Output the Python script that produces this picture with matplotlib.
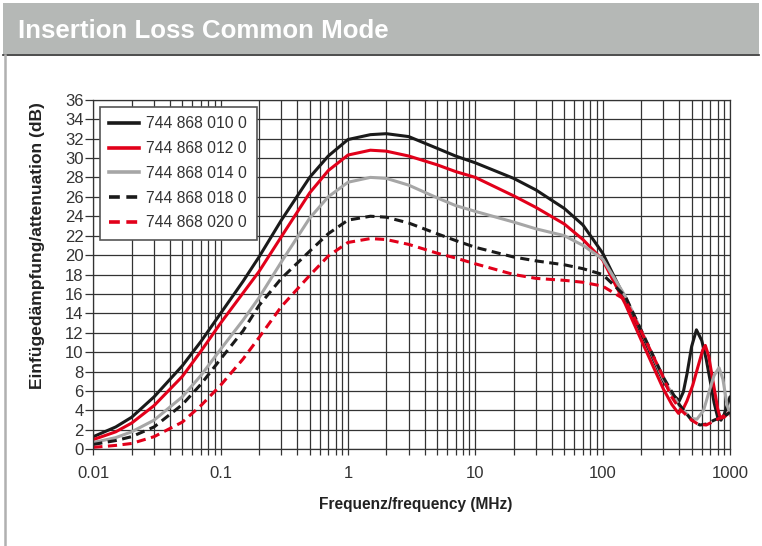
import matplotlib
matplotlib.use("Agg")
import matplotlib.pyplot as plt
import matplotlib.ticker as mticker
from matplotlib.lines import Line2D
from matplotlib.patches import Rectangle

# ── Data ─────────────────────────────────────────────────
labels = ["744 868 010 0", "744 868 012 0", "744 868 014 0",
          "744 868 018 0", "744 868 020 0"]

freq_010 = [0.01, 0.015, 0.02, 0.03, 0.05, 0.07, 0.1, 0.15, 0.2, 0.3, 0.5, 0.7, 1, 1.5, 2, 3, 5, 7,
            10, 20, 30, 50, 70, 100, 150, 200, 300, 350, 400, 430, 460, 500, 545, 600, 650, 700,
            750, 800, 850, 900, 1000]
att_010 = [1.3, 2.3, 3.3, 5.4, 8.6, 11.1, 14.0, 17.3, 19.8, 23.6, 28.0, 30.2, 31.9, 32.4, 32.5, 32.2,
           31.0, 30.2, 29.5, 27.9, 26.7, 24.8, 23.1, 20.2, 15.5, 12.0, 7.0, 5.7, 5.0, 5.9, 7.8, 10.6,
           12.3, 11.2, 9.3, 7.0, 4.8, 3.3, 3.0, 3.6, 5.4]

freq_012 = [0.01, 0.015, 0.02, 0.03, 0.05, 0.07, 0.1, 0.15, 0.2, 0.3, 0.5, 0.7, 1, 1.5, 2, 3, 5, 7,
            10, 20, 30, 50, 70, 100, 150, 200, 300, 350, 394, 430, 460, 510, 560, 610, 640, 680,
            740, 800, 840, 900, 1000]
att_012 = [1.0, 1.8, 2.7, 4.5, 7.5, 10.1, 13.0, 16.1, 18.3, 21.9, 26.4, 28.7, 30.3, 30.8, 30.7, 30.2,
           29.3, 28.6, 28.0, 26.1, 24.9, 23.2, 21.6, 19.5, 15.0, 11.3, 6.2, 4.6, 3.7, 4.2, 5.0, 6.6,
           8.5, 10.2, 10.7, 9.6, 6.8, 4.2, 3.2, 3.3, 3.9]

freq_014 = [0.01, 0.015, 0.02, 0.03, 0.05, 0.07, 0.1, 0.15, 0.2, 0.3, 0.5, 0.7, 1, 1.5, 2, 3, 5, 7,
            10, 20, 30, 50, 70, 100, 150, 200, 300, 400, 490, 550, 620, 680, 750, 820, 880, 950, 1000]
att_014 = [0.7, 1.2, 1.8, 3.0, 5.4, 7.6, 10.3, 13.3, 15.6, 19.3, 23.8, 26.0, 27.5, 28.0, 27.9, 27.2,
           25.9, 25.1, 24.5, 23.4, 22.7, 22.0, 21.0, 19.6, 15.8, 12.3, 7.2, 4.5, 3.2, 3.1, 4.0, 5.8,
           7.6, 8.4, 7.2, 4.5, 3.7]

freq_018 = [0.01, 0.015, 0.02, 0.03, 0.05, 0.07, 0.1, 0.15, 0.2, 0.3, 0.5, 0.7, 1, 1.5, 2, 3, 5, 7,
            10, 20, 30, 50, 70, 100, 150, 200, 300, 400, 500, 580, 650, 750, 850, 950, 1000]
att_018 = [0.5, 0.9, 1.3, 2.3, 4.6, 6.7, 9.3, 12.2, 14.8, 17.6, 20.4, 22.2, 23.6, 24.0, 23.9, 23.3,
           22.2, 21.5, 20.8, 19.8, 19.4, 19.0, 18.6, 18.0, 15.8, 12.3, 7.4, 4.6, 3.0, 2.5, 2.6, 3.0,
           3.3, 3.6, 3.8]

freq_020 = [0.01, 0.015, 0.02, 0.03, 0.05, 0.07, 0.1, 0.15, 0.2, 0.3, 0.5, 0.7, 1, 1.5, 2, 3, 5, 7,
            10, 20, 30, 50, 70, 100, 150, 200, 300, 340, 400, 500, 560, 650, 750, 850, 950, 1000]
att_020 = [0.2, 0.4, 0.6, 1.3, 2.8, 4.5, 6.6, 9.3, 11.5, 14.7, 17.9, 19.9, 21.3, 21.7, 21.6, 21.1,
           20.2, 19.7, 19.1, 18.0, 17.6, 17.4, 17.2, 16.8, 15.4, 12.2, 7.4, 5.6, 4.2, 3.0, 2.6, 2.5,
           2.9, 3.3, 3.6, 3.5]

x_ticks = [0.01, 0.1, 1, 10, 100, 1000]
x_ticklabels = ["0.01", "0.1", "1", "10", "100", "1000"]
y_ticks = list(range(0, 37, 2))

# ── Style ────────────────────────────────────────────────
plt.rcParams["font.family"] = ["Liberation Sans", "DejaVu Sans"]
BLACK, RED, GREY = "#1a1a1a", "#e2001a", "#a6a6a6"
GRID = "#333333"
W, H = 762, 546
DASH = (3.0, 1.8)

series = [
    (freq_010, att_010, BLACK, "-"),
    (freq_012, att_012, RED, "-"),
    (freq_014, att_014, GREY, "-"),
    (freq_018, att_018, BLACK, "--"),
    (freq_020, att_020, RED, "--"),
]

fig = plt.figure(figsize=(W / 100, H / 100), dpi=100)
fig.patch.set_facecolor("white")

# header bar
fig.add_artist(Rectangle((3 / W, 1 - 54 / H), 756 / W, 51 / H, transform=fig.transFigure,
                         facecolor="#b5b8b6", edgecolor="none"))
fig.add_artist(Line2D([3 / W, 759 / W], [1 - 54.5 / H] * 2, transform=fig.transFigure,
                      color="#2e2e2e", lw=1.2))
fig.add_artist(Line2D([5 / W] * 2, [0, 1 - 55 / H], transform=fig.transFigure,
                      color="#b0b0b0", lw=1.8))
fig.text(18 / W, 1 - 31 / H, "Insertion Loss Common Mode", color="white", fontsize=18.6,
         fontweight="bold", va="center", ha="left")

# plot area (pixel box: x 93..730, y 100..449)
ax = fig.add_axes([93.3 / W, 1 - 449.3 / H, (730 - 93.3) / W, (449.3 - 99.7) / H])
for f, a, c, ls in series:
    ax.plot(f, a, color=c, lw=2.2, ls=ls, dashes=DASH if ls == "--" else (None, None),
            solid_capstyle="round", solid_joinstyle="round")

ax.set_xscale("log")
ax.set_xlim(0.01, 1000)
ax.set_ylim(0, 36)
ax.xaxis.set_major_locator(mticker.FixedLocator(x_ticks))
ax.xaxis.set_major_formatter(mticker.FixedFormatter(x_ticklabels))
ax.xaxis.set_minor_locator(mticker.LogLocator(base=10, subs=range(2, 10), numticks=20))
ax.xaxis.set_minor_formatter(mticker.NullFormatter())
ax.set_yticks(y_ticks)

ax.grid(which="both", color=GRID, lw=0.9)
ax.set_axisbelow(True)
for sp in ax.spines.values():
    sp.set_color(GRID)
    sp.set_linewidth(0.9)
ax.tick_params(axis="x", which="both", direction="out", length=4, width=0.9, color=GRID,
               labelsize=12, labelcolor="#333333", pad=8)
ax.tick_params(axis="y", direction="out", length=6, width=0.9, color=GRID,
               labelsize=12, labelcolor="#333333", pad=1)

fig.text(416 / W, 1 - 505 / H, "Frequenz/frequency (MHz)", fontsize=11.2, fontweight="bold",
         color="#222222", ha="center", va="center")
fig.text(38 / W, 1 - 246 / H, "Einfügedämpfung/attenuation (dB)", rotation=90, fontsize=12.5,
         fontweight="bold", color="#222222", ha="center", va="center")

handles = [Line2D([], [], color=c, lw=2.6, ls=ls, dashes=DASH if ls == "--" else (None, None))
           for _, _, c, ls in series]
leg = ax.legend(handles, labels, loc="upper left",
                bbox_to_anchor=((100 - 93.3) / 636.7, (449.3 - 107) / 349.6), borderaxespad=0,
                fontsize=11.3, frameon=True, fancybox=False, edgecolor="#555555", framealpha=1,
                handlelength=1.9, handletextpad=0.45, labelspacing=0.62, borderpad=0.6)
leg.get_frame().set_linewidth(1.2)
for t in leg.get_texts():
    t.set_color("#333333")

fig.savefig("out.png", dpi=100)
